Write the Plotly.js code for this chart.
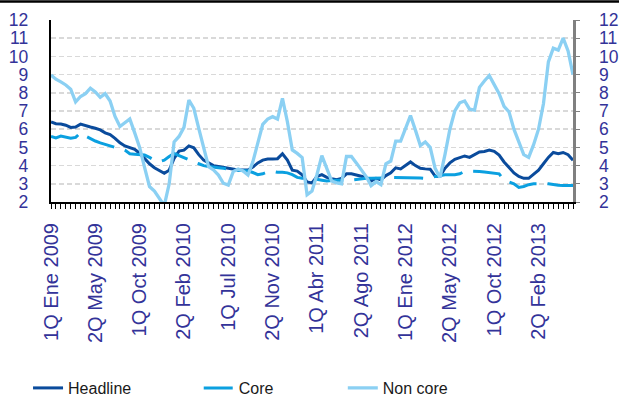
<!DOCTYPE html>
<html>
<head>
<meta charset="utf-8">
<script src="https://cdn.plot.ly/plotly-3.0.1.min.js"></script>
<style>
html,body{margin:0;padding:0;background:#fff;}
#chart{width:619px;height:398px;}
</style>
</head>
<body>
<div id="chart"></div>
<script>
// Biweekly periods (quincenas) from 1Q Ene 2009 to 1Q Jun 2013
const months = ['Ene','Feb','Mar','Abr','May','Jun','Jul','Ago','Sep','Oct','Nov','Dic'];
const years = [2009, 2010, 2011, 2012, 2013];
const categories = [];
years.forEach(y => months.forEach(m => ['1Q','2Q'].forEach(q => categories.push(q + ' ' + m + ' ' + y))));
categories.length = 107;

const tickLabels = ['1Q Ene 2009','2Q May 2009','1Q Oct 2009','2Q Feb 2010','1Q Jul 2010','2Q Nov 2010',
  '1Q Abr 2011','2Q Ago 2011','1Q Ene 2012','2Q May 2012','1Q Oct 2012','2Q Feb 2013'];
const yTicks = [2,3,4,5,6,7,8,9,10,11,12];

const headline = [6.40,6.30,6.28,6.22,6.10,6.12,6.28,6.22,6.12,6.05,
  5.96,5.80,5.70,5.50,5.25,5.08,5.00,4.90,4.68,4.40,
  4.10,3.88,3.72,3.58,3.75,4.40,4.80,4.85,5.08,4.98,
  4.60,4.30,4.15,4.00,3.95,3.90,3.85,3.78,3.76,3.76,
  3.76,3.92,4.15,4.30,4.36,4.36,4.38,4.65,4.30,3.75,
  3.70,3.50,3.10,3.05,3.40,3.50,3.35,3.28,3.22,3.30,
  3.55,3.55,3.48,3.40,3.35,3.15,3.30,3.22,3.45,3.60,
  3.88,3.82,4.03,4.20,4.00,3.85,3.82,3.80,3.42,3.40,
  3.85,4.15,4.35,4.45,4.53,4.45,4.62,4.75,4.78,4.85,
  4.78,4.58,4.20,3.90,3.60,3.40,3.30,3.30,3.52,3.75,
  4.10,4.45,4.72,4.65,4.72,4.60,4.30];

const core = [5.60,5.52,5.62,5.58,5.50,5.55,5.80,5.62,5.47,5.35,
  5.25,5.15,5.08,5.00,4.97,4.85,4.65,4.63,4.62,4.58,
  4.45,4.30,4.22,4.30,4.50,4.67,4.55,4.42,4.30,4.20,
  4.10,4.00,3.95,3.90,3.88,3.85,3.80,3.78,3.75,3.72,
  3.70,3.62,3.50,3.55,3.65,3.68,3.63,3.63,3.60,3.50,
  3.35,3.30,3.30,3.25,3.25,3.20,3.15,3.18,3.20,3.20,
  3.18,3.22,3.25,3.28,3.30,3.30,3.30,3.30,3.33,3.35,
  3.35,3.35,3.35,3.35,3.35,3.32,3.30,3.35,3.42,3.48,
  3.50,3.50,3.50,3.55,3.68,3.70,3.70,3.68,3.65,3.62,
  3.62,3.55,3.20,3.12,3.00,2.80,2.85,2.95,3.00,3.00,
  3.03,3.00,2.95,2.92,2.90,2.90,2.90];

const nonCore = [8.98,8.75,8.60,8.43,8.20,7.50,7.80,7.95,8.25,8.05,
  7.75,7.95,7.55,6.70,6.15,6.35,6.56,5.80,5.00,3.90,
  2.85,2.60,2.20,1.80,3.00,5.30,5.60,6.10,7.60,7.15,
  6.05,5.04,3.94,3.76,3.48,3.03,2.93,3.67,3.81,3.70,
  3.48,4.22,5.31,6.27,6.56,6.69,6.56,7.70,6.41,4.86,
  4.67,4.44,2.40,2.60,3.50,4.55,3.85,3.15,3.05,3.00,
  4.50,4.50,4.15,3.75,3.40,2.90,3.12,2.95,4.10,4.25,
  5.35,5.35,6.10,6.75,5.95,5.10,5.30,5.00,3.85,3.35,
  4.60,6.00,7.00,7.45,7.55,7.10,7.05,8.30,8.65,8.95,
  8.45,7.95,7.25,6.95,6.00,5.25,4.60,4.45,5.15,6.00,
  7.40,9.70,10.45,10.35,11.00,10.30,9.00];

const xIdx = categories.map((_, i) => i);
const tickIdx = tickLabels.map(l => categories.indexOf(l));

const FONT = 'Liberation Sans, Arial, sans-serif';
const AXIS_TXT = '#333399';

const traces = [
  {x: xIdx, y: headline, name: 'Headline', type: 'scatter', mode: 'lines',
   line: {color: '#0a4b9c', width: 3}, legend: 'legend', hoverinfo: 'skip'},
  {x: xIdx, y: core, name: 'Core', type: 'scatter', mode: 'lines',
   line: {color: '#0ba0e0', width: 3, dash: '29px,11px'}, legend: 'legend2', hoverinfo: 'skip'},
  {x: xIdx, y: nonCore, name: 'Non core', type: 'scatter', mode: 'lines',
   line: {color: '#8bd0f3', width: 3.3}, legend: 'legend3', hoverinfo: 'skip'},
  {x: xIdx, y: headline, yaxis: 'y2', type: 'scatter', mode: 'lines', opacity: 0,
   line: {width: 0}, showlegend: false, hoverinfo: 'skip'}
];

const legendBase = {orientation: 'h', yanchor: 'middle', y: -1.022, xanchor: 'left',
  font: {family: FONT, size: 16, color: '#1a1a1a'}, bgcolor: 'rgba(0,0,0,0)', itemwidth: 30};

const layout = {
  width: 619, height: 398,
  margin: {l: 51, r: 46, t: 20, b: 196, pad: 0, autoexpand: false},
  paper_bgcolor: '#fff', plot_bgcolor: '#fff',
  font: {family: FONT},
  showlegend: true,
  legend: Object.assign({}, legendBase, {x: -0.044}),
  legend2: Object.assign({}, legendBase, {x: 0.283}),
  legend3: Object.assign({}, legendBase, {x: 0.559}),
  xaxis: {
    range: [0, categories.length - 1], tickmode: 'array', tickvals: tickIdx, ticktext: tickLabels,
    tickangle: -90, tickfont: {family: FONT, size: 20, color: AXIS_TXT},
    showline: true, linecolor: '#000', linewidth: 2, ticks: 'outside', ticklen: 5, tickcolor: '#000', tickwidth: 1,
    minor: {tickmode: 'linear', tick0: 0, dtick: 1, ticks: 'outside', ticklen: 5, tickcolor: '#000', tickwidth: 1},
    showgrid: false, zeroline: false, fixedrange: true, automargin: false, ticklabelstandoff: 6
  },
  yaxis: {
    range: [2, 12], tickmode: 'array', tickvals: yTicks,
    tickfont: {family: FONT, size: 17.5, color: AXIS_TXT},
    showline: true, linecolor: '#000', linewidth: 2.3, ticks: '',
    showgrid: true, gridcolor: '#d9d9d9', gridwidth: 1.5, griddash: '5px,3px',
    zeroline: false, ticklabelstandoff: 17, fixedrange: true, automargin: false
  },
  yaxis2: {
    range: [2, 12], tickmode: 'array', tickvals: yTicks, overlaying: 'y', side: 'right',
    tickfont: {family: FONT, size: 17.5, color: AXIS_TXT},
    showline: true, linecolor: '#808080', linewidth: 2.5, ticks: 'outside', ticklen: 4, tickcolor: '#808080',
    showgrid: false, zeroline: false, ticklabelstandoff: 16, fixedrange: true, automargin: false
  },
  shapes: [
    {type: 'line', xref: 'paper', yref: 'paper', x0: -51/522, x1: 568/522, y0: 1 + 18.5/182, y1: 1 + 18.5/182,
     line: {color: '#000', width: 2.5}}
  ]
};

Plotly.newPlot('chart', traces, layout, {staticPlot: true, displayModeBar: false});
</script>
</body>
</html>
